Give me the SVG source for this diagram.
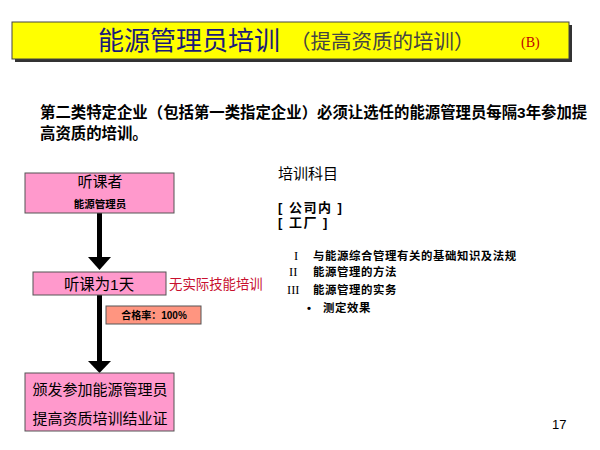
<svg xmlns="http://www.w3.org/2000/svg" width="600" height="450" viewBox="0 0 600 450">
<style>
.cjk{font-family:"Liberation Sans","Noto Sans CJK SC",sans-serif}
.serif{font-family:"Liberation Serif","Noto Sans CJK SC",serif}
.pink{fill:#FF99CC;stroke:#555;stroke-width:1}
.salmon{fill:#FF9580;stroke:#555;stroke-width:1}
.conn{stroke:#000;stroke-width:5;fill:none}
.head{fill:#000}
.item{font-size:11.4px;font-weight:bold;letter-spacing:0.6px}
</style>
<rect width="600" height="450" fill="#fff"/>
<g id="title">
<rect x="15" y="25" width="557" height="37" fill="#333"/>
<rect x="12" y="22" width="557" height="37" fill="#FFFF00" stroke="#444" stroke-width="1"/>
<text x="98" y="50" class="cjk" font-size="26" fill="#1A1A7A">能源管理员培训</text>
<text x="290" y="49" class="cjk" font-size="20.5" fill="#444">（提高资质的培训）</text>
<text x="521" y="47" class="serif" font-size="14" fill="#C00000">(B)</text>
</g>
<g id="intro" class="cjk" font-size="15.4" font-weight="bold" fill="#000">
<text x="40" y="118">第二类特定企业（包括第一类指定企业）必须让选任的能源管理员每隔3年参加提</text>
<text x="40" y="139">高资质的培训。</text>
</g>
<g id="connectors">
<line class="conn" x1="99.5" y1="213" x2="99.5" y2="259"/>
<polygon class="head" points="88,257 111,257 99.5,270"/>
<line class="conn" x1="99.5" y1="295" x2="99.5" y2="363"/>
<polygon class="head" points="88,361 111,361 99.5,373"/>
</g>
<g id="node-listener">
<rect class="pink" x="25" y="173" width="149" height="40"/>
<text x="100" y="187" class="cjk" font-size="15" text-anchor="middle">听课者</text>
<text x="100" y="208" class="cjk" font-size="10.5" font-weight="bold" text-anchor="middle">能源管理员</text>
</g>
<g id="node-oneday">
<rect class="pink" x="33" y="272" width="133" height="23"/>
<text x="99" y="289.5" class="cjk" font-size="15.4" text-anchor="middle">听课为1天</text>
</g>
<text id="note-noskill" x="169" y="289" class="cjk" font-size="13.4" fill="#C8102E">无实际技能培训</text>
<g id="node-pass">
<rect class="salmon" x="106" y="306" width="95" height="18"/>
<text x="154" y="319" class="cjk" font-size="10" font-weight="bold" text-anchor="middle">合格率：100%</text>
</g>
<g id="node-cert">
<rect class="pink" x="25" y="373" width="149" height="58"/>
<text x="100" y="394.5" class="cjk" font-size="15" text-anchor="middle">颁发参加能源管理员</text>
<text x="100" y="423.5" class="cjk" font-size="15" text-anchor="middle">提高资质培训结业证</text>
</g>
<g id="subjects" fill="#000">
<text x="278" y="179" class="cjk" font-size="15">培训科目</text>
<text x="278" y="211.5" class="cjk" font-size="13" font-weight="bold" letter-spacing="1.5">[ 公司内 ]</text>
<text x="278" y="226.5" class="cjk" font-size="13" font-weight="bold" letter-spacing="1.5">[ 工厂 ]</text>
<text x="294" y="260" class="serif" font-size="12.5">I</text>
<text x="289" y="276" class="serif" font-size="12.5">II</text>
<text x="287" y="294" class="serif" font-size="12.5">III</text>
<text x="313" y="260" class="cjk item">与能源综合管理有关的基础知识及法规</text>
<text x="313" y="276" class="cjk item">能源管理的方法</text>
<text x="313" y="294" class="cjk item">能源管理的实务</text>
<text x="307" y="312" class="cjk item">•</text>
<text x="323" y="312" class="cjk item">测定效果</text>
</g>
<text id="page-number" x="552" y="428.5" font-family="Liberation Sans, sans-serif" font-size="13" fill="#000">17</text>
</svg>
